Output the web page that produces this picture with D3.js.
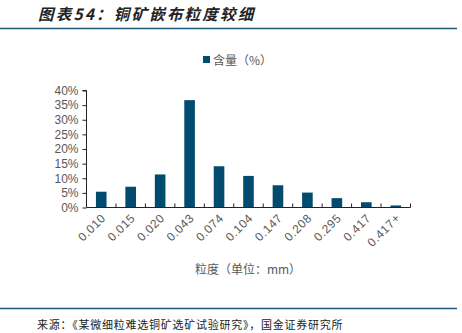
<!DOCTYPE html>
<html>
<head>
<meta charset="utf-8">
<script src="https://cdn.jsdelivr.net/npm/d3@7"></script>
<style>
  html, body { margin: 0; padding: 0; background: #fff; }
  svg { display: block; }
</style>
</head>
<body>
<svg id="chart" width="462" height="333"></svg>
<script>
// Particle size classes (mm) and share of copper content (%)
const categories = ["0.010", "0.015", "0.020", "0.043", "0.074", "0.104", "0.147", "0.208", "0.295", "0.417", "0.417+"];
const shares = [5.4, 7.1, 11.3, 36.7, 14.1, 10.8, 7.6, 5.1, 3.2, 1.8, 0.7];
const yTicks = [0, 5, 10, 15, 20, 25, 30, 35, 40];

const titleText = "图表54：铜矿嵌布粒度较细";
const legendText = "含量（%）";
const xAxisTitle = "粒度（单位：mm）";
const sourceText = "来源：《某微细粒难选铜矿选矿试验研究》，国金证券研究所";

const barColor = "#004b6e";
const ruleColor = "#1d5a7e";
const textColor = "#595959";
const latin = "'Liberation Sans', Arial, sans-serif";
const cjk = "'Noto Sans CJK SC', sans-serif";

const svg = d3.select("#chart");

// Header and footer rules
svg.append("text")
  .attr("x", 38).attr("y", 20)
  .attr("font-family", cjk).attr("font-size", 15.5).attr("font-weight", 700)
  .attr("font-style", "italic").attr("letter-spacing", 2.2).attr("fill", "#222")
  .text(titleText);
svg.append("line").attr("x1", 0).attr("x2", 457).attr("y1", 28.5).attr("y2", 28.5)
  .attr("stroke", ruleColor).attr("stroke-width", 1.5);
svg.append("line").attr("x1", 0).attr("x2", 457).attr("y1", 308.5).attr("y2", 308.5)
  .attr("stroke", ruleColor).attr("stroke-width", 1.5);
svg.append("text")
  .attr("x", 37).attr("y", 329)
  .attr("font-family", cjk).attr("font-size", 11).attr("letter-spacing", 0.75).attr("fill", "#222")
  .text(sourceText);

// Plot area
const plotLeft = 86.5, plotRight = 410.5, plotTop = 90.5, plotBottom = 207.5;
const x = d3.scaleBand().domain(categories).range([plotLeft, plotRight]).paddingInner(0.64).paddingOuter(0.32);
const y = d3.scaleLinear().domain([0, 40]).range([plotBottom, plotTop]);

// Bars
svg.append("g").selectAll("rect").data(shares).join("rect")
  .attr("x", (d, i) => x(categories[i]))
  .attr("width", x.bandwidth())
  .attr("y", d => y(d))
  .attr("height", d => y(0) - y(d))
  .attr("fill", barColor);

// Y axis
const yAxis = d3.axisLeft(y).tickValues(yTicks).tickFormat(d => d + "%").tickSize(4).tickPadding(4);
const gy = svg.append("g").attr("transform", `translate(${plotLeft},0)`).call(yAxis);
gy.select(".domain").attr("stroke", "#222").attr("d", `M-4,${plotTop}H0V${plotBottom}`);
gy.selectAll(".tick line").attr("stroke", "#222");
gy.selectAll("text").attr("font-family", latin).attr("font-size", 12).attr("fill", textColor);

// X axis: baseline with upward ticks at band boundaries
const bandStep = (plotRight - plotLeft) / categories.length;
const bounds = d3.range(categories.length + 1).map(i => plotLeft + i * bandStep);
svg.append("line").attr("x1", plotLeft).attr("x2", plotRight).attr("y1", plotBottom).attr("y2", plotBottom)
  .attr("stroke", "#222").attr("stroke-width", 1);
svg.append("g").selectAll("line").data(bounds.slice(1)).join("line")
  .attr("x1", d => d).attr("x2", d => d)
  .attr("y1", plotBottom - 4).attr("y2", plotBottom)
  .attr("stroke", "#222");

// X tick labels, rotated
svg.append("g").selectAll("text").data(categories).join("text")
  .attr("transform", d => `translate(${x(d) + x.bandwidth() / 2 + 3},${plotBottom + 9}) rotate(-45)`)
  .attr("text-anchor", "end")
  .attr("dominant-baseline", "middle")
  .attr("font-family", latin).attr("font-size", 12).attr("letter-spacing", 0.6).attr("fill", textColor)
  .text(d => d);

// X axis title
svg.append("text")
  .attr("x", 248).attr("y", 274)
  .attr("text-anchor", "middle")
  .attr("font-family", cjk).attr("font-size", 12).attr("fill", textColor)
  .text(xAxisTitle);

// Legend
svg.append("rect").attr("x", 203).attr("y", 56).attr("width", 7).attr("height", 7).attr("fill", barColor);
svg.append("text")
  .attr("x", 213).attr("y", 64.5)
  .attr("font-family", cjk).attr("font-size", 12).attr("fill", textColor)
  .text(legendText);
</script>
</body>
</html>
